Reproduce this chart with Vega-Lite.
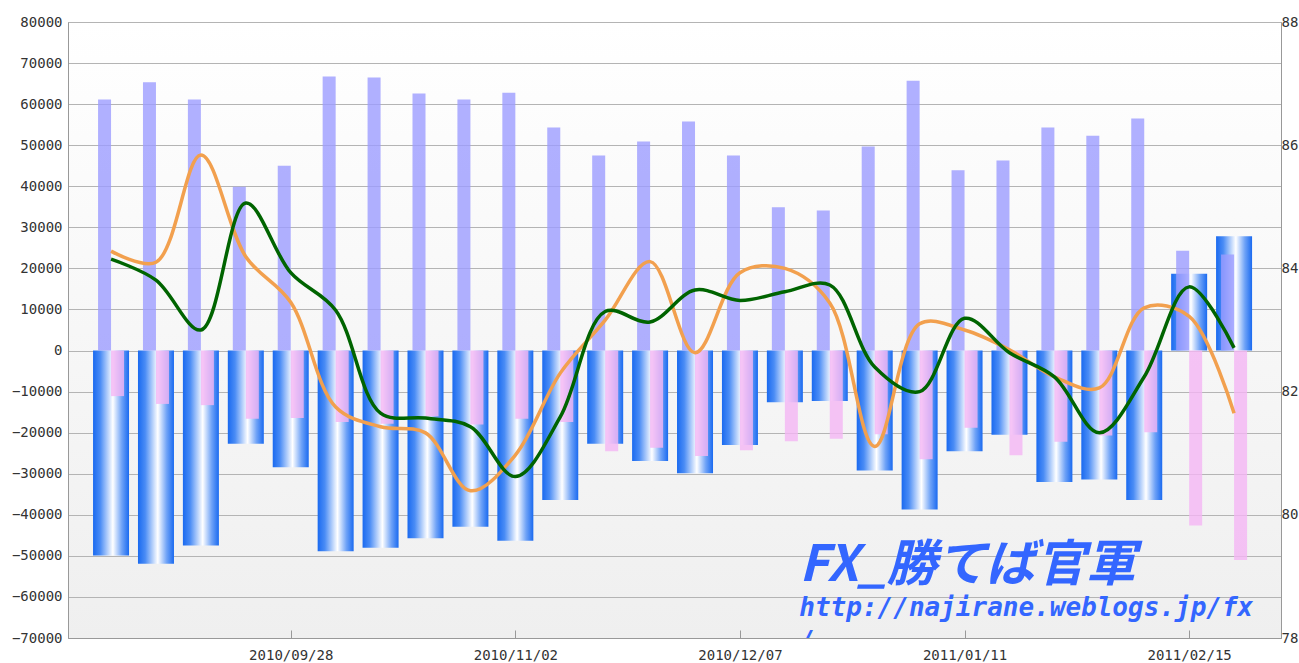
{
  "$schema": "https://vega.github.io/schema/vega-lite/v6.json",
  "width": 1213,
  "height": 616,
  "autosize": {"type": "none"},
  "padding": {"left": 68, "top": 22, "right": 18, "bottom": 25},
  "background": "white",
  "config": {
    "view": {
      "stroke": "#aaaaaa",
      "fill": {"gradient": "linear", "x1": 0, "y1": 0, "x2": 0, "y2": 1,
        "stops": [{"offset": 0, "color": "#ffffff"}, {"offset": 0.5, "color": "#f7f7f7"}, {"offset": 1, "color": "#efefef"}]}
    },
    "axis": {"labelFont": "DejaVu Sans Mono", "labelFontSize": 14, "labelColor": "#333333", "domainColor": "#999999", "gridColor": "#b4b4b4", "tickColor": "#999999", "title": null}
  },
  "datasets": {
    "cot": [
      {"date": "2010-08-31", "net": -49900, "long": 61100, "short": -11100, "orange": 84.28, "green": 84.15},
      {"date": "2010-09-07", "net": -51900, "long": 65300, "short": -13000, "orange": 84.10, "green": 83.81},
      {"date": "2010-09-14", "net": -47500, "long": 61100, "short": -13300, "orange": 85.84, "green": 83.00},
      {"date": "2010-09-21", "net": -22700, "long": 39900, "short": -16600, "orange": 84.19, "green": 85.06},
      {"date": "2010-09-28", "net": -28400, "long": 45000, "short": -16400, "orange": 83.45, "green": 83.93},
      {"date": "2010-10-05", "net": -48900, "long": 66700, "short": -17400, "orange": 81.75, "green": 83.32},
      {"date": "2010-10-12", "net": -48000, "long": 66500, "short": -17800, "orange": 81.43, "green": 81.65},
      {"date": "2010-10-19", "net": -45700, "long": 62600, "short": -16000, "orange": 81.33, "green": 81.57},
      {"date": "2010-10-26", "net": -42900, "long": 61100, "short": -18000, "orange": 80.39, "green": 81.43},
      {"date": "2010-11-02", "net": -46300, "long": 62800, "short": -16600, "orange": 80.97, "green": 80.62},
      {"date": "2010-11-09", "net": -36400, "long": 54300, "short": -17400, "orange": 82.30, "green": 81.59},
      {"date": "2010-11-16", "net": -22700, "long": 47500, "short": -24500, "orange": 83.16, "green": 83.30},
      {"date": "2010-11-23", "net": -26900, "long": 50900, "short": -23700, "orange": 84.11, "green": 83.13},
      {"date": "2010-11-30", "net": -29900, "long": 55800, "short": -25700, "orange": 82.63, "green": 83.65},
      {"date": "2010-12-07", "net": -23000, "long": 47500, "short": -24300, "orange": 83.93, "green": 83.48},
      {"date": "2010-12-14", "net": -12600, "long": 34900, "short": -22100, "orange": 84.00, "green": 83.62},
      {"date": "2010-12-21", "net": -12300, "long": 34100, "short": -21500, "orange": 83.44, "green": 83.73},
      {"date": "2010-12-28", "net": -29200, "long": 49700, "short": -20400, "orange": 81.11, "green": 82.40},
      {"date": "2011-01-04", "net": -38700, "long": 65700, "short": -26500, "orange": 83.10, "green": 82.00},
      {"date": "2011-01-11", "net": -24500, "long": 43900, "short": -18800, "orange": 83.00, "green": 83.19},
      {"date": "2011-01-18", "net": -20500, "long": 46300, "short": -25500, "orange": 82.68, "green": 82.63},
      {"date": "2011-01-25", "net": -32000, "long": 54300, "short": -22200, "orange": 82.24, "green": 82.24},
      {"date": "2011-02-01", "net": -31400, "long": 52300, "short": -20700, "orange": 82.06, "green": 81.33},
      {"date": "2011-02-08", "net": -36400, "long": 56500, "short": -19900, "orange": 83.36, "green": 82.24},
      {"date": "2011-02-15", "net": 18700, "long": 24300, "short": -42600, "orange": 83.22, "green": 83.70},
      {"date": "2011-02-22", "net": 27800, "long": 23400, "short": -51000, "orange": 81.65, "green": 82.71}
    ]
  },
  "data": {"name": "cot"},
  "layer": [
    {
      "layer": [
        {
          "mark": {"type": "bar", "width": 36,
            "color": {"gradient": "linear", "x1": 0, "y1": 0, "x2": 1, "y2": 0,
              "stops": [{"offset": 0, "color": "#1a6af0"}, {"offset": 0.2, "color": "#4a8cf5"}, {"offset": 0.55, "color": "#ffffff"}, {"offset": 0.8, "color": "#6ea2f7"}, {"offset": 1, "color": "#1a6af0"}]}},
          "encoding": {
            "x": {"field": "date", "type": "temporal", "title": null,
              "scale": {"type": "utc", "padding": 0, "nice": false, "domain": [{"year": 2010, "month": 8, "date": 24, "hours": 7, "utc": true}, {"year": 2011, "month": 3, "date": 1, "hours": 7, "minutes": 30, "utc": true}]},
              "axis": {"values": [
                {"year": 2010, "month": 9, "date": 28, "utc": true},
                {"year": 2010, "month": 11, "date": 2, "utc": true},
                {"year": 2010, "month": 12, "date": 7, "utc": true},
                {"year": 2011, "month": 1, "date": 11, "utc": true},
                {"year": 2011, "month": 2, "date": 15, "utc": true}],
                "format": "%Y/%m/%d", "grid": false, "tickSize": -8, "labelPadding": 18, "labelFlush": false, "labelOverlap": false}},
            "y": {"field": "net", "type": "quantitative", "title": null,
              "scale": {"domain": [-70000, 80000], "nice": false},
              "axis": {"values": [-70000, -60000, -50000, -40000, -30000, -20000, -10000, 0, 10000, 20000, 30000, 40000, 50000, 60000, 70000, 80000],
                "format": "d", "ticks": false, "labelPadding": 6, "grid": true, "labelOverlap": false}}
          }
        },
        {
          "mark": {"type": "bar", "width": 13, "xOffset": -6.5, "color": "#9c9cff", "opacity": 0.8},
          "encoding": {
            "x": {"field": "date", "type": "temporal", "title": null},
            "y": {"field": "long", "type": "quantitative", "title": null, "scale": {"domain": [-70000, 80000], "nice": false}}
          }
        },
        {
          "mark": {"type": "bar", "width": 13, "xOffset": 6.5, "color": "#f4b5f4", "opacity": 0.8},
          "encoding": {
            "x": {"field": "date", "type": "temporal", "title": null},
            "y": {"field": "short", "type": "quantitative", "title": null, "scale": {"domain": [-70000, 80000], "nice": false}}
          }
        },
        {
          "data": {"values": [{"date": "2010-12-16T06:00:00Z", "value": -56200, "label": "FX_勝てば官軍"}]},
          "mark": {"type": "text", "align": "left", "baseline": "alphabetic", "font": "Noto Sans CJK JP", "fontSize": 50, "fontWeight": "bold", "fontStyle": "italic", "color": "#3366ff"},
          "encoding": {
            "x": {"field": "date", "type": "temporal", "title": null},
            "y": {"field": "value", "type": "quantitative", "title": null},
            "text": {"field": "label"}
          }
        },
        {
          "data": {"values": [{"date": "2010-12-16T06:00:00Z", "value": -64700, "label": "http://najirane.weblogs.jp/fx"}]},
          "mark": {"type": "text", "align": "left", "baseline": "alphabetic", "font": "DejaVu Sans Mono", "fontSize": 26, "fontWeight": "bold", "fontStyle": "italic", "color": "#3366ff"},
          "encoding": {
            "x": {"field": "date", "type": "temporal", "title": null},
            "y": {"field": "value", "type": "quantitative", "title": null},
            "text": {"field": "label"}
          }
        },
        {
          "data": {"values": [{"date": "2010-12-16T06:00:00Z", "value": -72600, "label": "/"}]},
          "mark": {"type": "text", "align": "left", "baseline": "alphabetic", "font": "DejaVu Sans Mono", "fontSize": 26, "fontWeight": "bold", "fontStyle": "italic", "color": "#3366ff", "clip": true},
          "encoding": {
            "x": {"field": "date", "type": "temporal", "title": null},
            "y": {"field": "value", "type": "quantitative", "title": null},
            "text": {"field": "label"}
          }
        }
      ]
    },
    {
      "layer": [
        {
          "mark": {"type": "line", "interpolate": "catmull-rom", "strokeWidth": 3.5, "color": "#f2a04e"},
          "encoding": {
            "x": {"field": "date", "type": "temporal", "title": null},
            "y": {"field": "orange", "type": "quantitative", "title": null,
              "scale": {"domain": [78, 88], "nice": false, "zero": false},
              "axis": {"orient": "right", "values": [78, 80, 82, 84, 86, 88], "format": "d", "grid": false, "ticks": false, "labelPadding": 0, "labelFontSize": 14}}
          }
        },
        {
          "mark": {"type": "line", "interpolate": "catmull-rom", "strokeWidth": 3.5, "color": "#006400"},
          "encoding": {
            "x": {"field": "date", "type": "temporal", "title": null},
            "y": {"field": "green", "type": "quantitative", "title": null, "scale": {"domain": [78, 88], "nice": false, "zero": false}}
          }
        }
      ]
    }
  ],
  "resolve": {"scale": {"y": "independent"}}
}
